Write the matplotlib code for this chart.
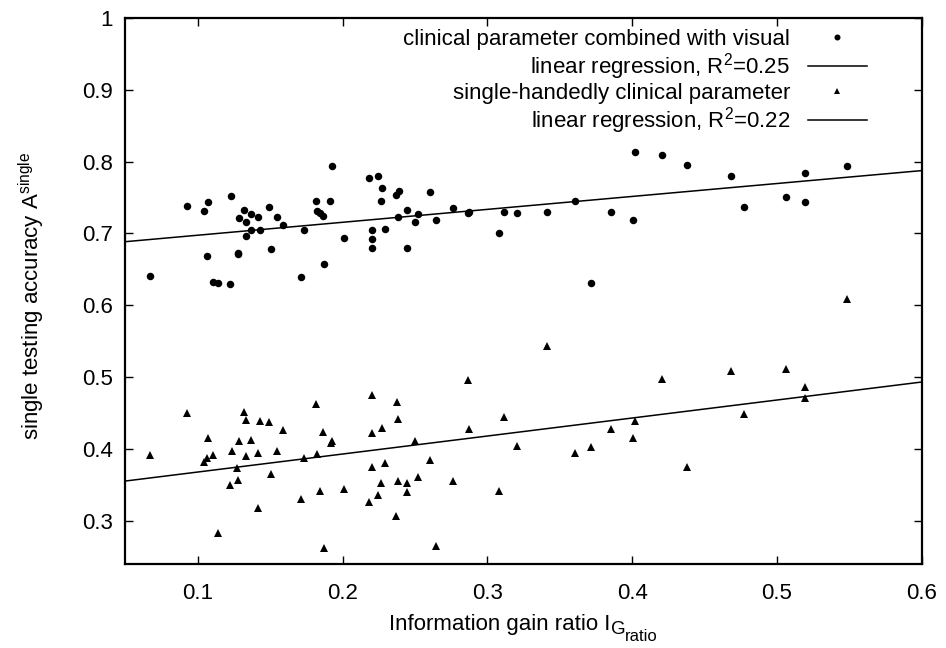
import numpy as np
import matplotlib
matplotlib.use('Agg')
import matplotlib.pyplot as plt
from matplotlib.ticker import FuncFormatter

plt.rcParams['font.family'] = ['Liberation Sans', 'DejaVu Sans']
plt.rcParams['mathtext.fontset'] = 'custom'
plt.rcParams['mathtext.rm'] = 'Liberation Sans'
plt.rcParams['mathtext.it'] = 'Liberation Sans'

# clinical parameter combined with visual (circles)
comb_x = [0.0673, 0.0926, 0.1043, 0.1073, 0.1066, 0.1108, 0.1140, 0.1225, 0.1232, 0.1283,
          0.1276, 0.1276, 0.1320, 0.1336, 0.1333, 0.1370, 0.1366, 0.1418, 0.1428, 0.1492,
          0.1504, 0.1550, 0.1587, 0.1711, 0.1736, 0.1819, 0.1822, 0.1844, 0.1867, 0.1872,
          0.1916, 0.1930, 0.2012, 0.2183, 0.2245, 0.2270, 0.2266, 0.2203, 0.2203, 0.2203,
          0.2291, 0.2367, 0.2388, 0.2383, 0.2445, 0.2445, 0.2498, 0.2523, 0.2606, 0.2645,
          0.2763, 0.2868, 0.2870, 0.3082, 0.3115, 0.3207, 0.3410, 0.3605, 0.3713, 0.3851,
          0.4003, 0.4021, 0.4208, 0.4376, 0.4684, 0.4770, 0.5060, 0.5193, 0.5193, 0.5485]
comb_y = [0.6407, 0.7377, 0.7316, 0.7432, 0.6686, 0.6324, 0.6310, 0.6296, 0.7520, 0.7218,
          0.6730, 0.6710, 0.7330, 0.7154, 0.6964, 0.7270, 0.7047, 0.7224, 0.7043, 0.7363,
          0.6787, 0.7224, 0.7117, 0.6394, 0.7043, 0.7455, 0.7311, 0.7280, 0.7246, 0.6579,
          0.7450, 0.7937, 0.6940, 0.7775, 0.7794, 0.7631, 0.7446, 0.7047, 0.6926, 0.6801,
          0.7061, 0.7530, 0.7590, 0.7224, 0.7330, 0.6797, 0.7154, 0.7274, 0.7580, 0.7186,
          0.7349, 0.7284, 0.7300, 0.7006, 0.7302, 0.7284, 0.7293, 0.7446, 0.6314, 0.7298,
          0.7186, 0.8128, 0.8090, 0.7955, 0.7798, 0.7363, 0.7502, 0.7844, 0.7433, 0.7937]

# single-handedly clinical parameter (triangles)
single_x = [0.0673, 0.0926, 0.1073, 0.1043, 0.1066, 0.1108, 0.1140, 0.1223, 0.1235, 0.1276,
            0.1273, 0.1285, 0.1320, 0.1336, 0.1336, 0.1366, 0.1418, 0.1414, 0.1428, 0.1492,
            0.1504, 0.1550, 0.1587, 0.1711, 0.1736, 0.1819, 0.1822, 0.1844, 0.1865, 0.1872,
            0.1918, 0.1930, 0.2012, 0.2203, 0.2203, 0.2203, 0.2183, 0.2245, 0.2270, 0.2266,
            0.2291, 0.2367, 0.2378, 0.2385, 0.2385, 0.2445, 0.2445, 0.2498, 0.2523, 0.2606,
            0.2647, 0.2763, 0.2868, 0.2873, 0.3082, 0.3115, 0.3207, 0.3410, 0.3605, 0.3713,
            0.3851, 0.4003, 0.4021, 0.4208, 0.4376, 0.4684, 0.4770, 0.5060, 0.5193, 0.5193,
            0.5485]
single_y = [0.3914, 0.4498, 0.4159, 0.3820, 0.3872, 0.3922, 0.2837, 0.3496, 0.3969, 0.3566,
            0.3737, 0.4112, 0.4520, 0.4400, 0.3904, 0.4122, 0.3950, 0.3177, 0.4386, 0.4381,
            0.3654, 0.3978, 0.4262, 0.3306, 0.3876, 0.4627, 0.3936, 0.3421, 0.4234, 0.2629,
            0.4080, 0.4108, 0.3449, 0.4757, 0.4228, 0.3755, 0.3260, 0.3357, 0.4298, 0.3525,
            0.3807, 0.3065, 0.4659, 0.4414, 0.3556, 0.3533, 0.3399, 0.4117, 0.3616, 0.3853,
            0.2652, 0.3561, 0.4957, 0.4275, 0.3421, 0.4442, 0.4039, 0.5438, 0.3941, 0.4029,
            0.4275, 0.4159, 0.4387, 0.4971, 0.3755, 0.5090, 0.4484, 0.5118, 0.4864, 0.4706,
            0.6092]

r2_labels = ['0.25', '0.22']

W, H = 946, 648
fig = plt.figure(figsize=(W / 100, H / 100), dpi=100)
ax = fig.add_axes([0.1325, 0.1292, 0.8419, 0.8435])

# regression lines fitted on the data
xs = np.array([0.05, 0.6])
k1, d1 = np.polyfit(comb_x, comb_y, 1)
k2, d2 = np.polyfit(single_x, single_y, 1)

ax.plot(comb_x, comb_y, 'o', color='black', ms=5.4, mew=0,
        label='clinical parameter combined with visual')
ax.plot(xs, k1 * xs + d1, '-', color='black', lw=1.1,
        label='linear regression, R$^2$=' + r2_labels[0])
ax.plot(single_x, single_y, '^', color='black', ms=5.6, mew=0,
        label='single-handedly clinical parameter')
ax.plot(xs, k2 * xs + d2, '-', color='black', lw=1.1,
        label='linear regression, R$^2$=' + r2_labels[1])

ax.set_xlim(0.05, 0.6)
ax.set_ylim(0.24, 1.0)
ax.set_xticks([0.1, 0.2, 0.3, 0.4, 0.5, 0.6])
ax.set_yticks([0.3, 0.4, 0.5, 0.6, 0.7, 0.8, 0.9, 1.0])
fmt = FuncFormatter(lambda v, p: '%g' % round(v, 2))
ax.xaxis.set_major_formatter(fmt)
ax.yaxis.set_major_formatter(fmt)
ax.tick_params(direction='in', length=6, width=1, top=True, right=True,
               labelsize=16, pad=9)
ax.tick_params(axis='x', pad=13.5)
for s in ax.spines.values():
    s.set_linewidth(1.6)

ax.set_ylabel(r'single testing accuracy A$^{\mathregular{single}}$', fontsize=16)
ax.yaxis.set_label_coords(-0.0986, 0.491)

leg = ax.legend(loc='upper right', bbox_to_anchor=(0.945, 0.9996), frameon=False,
                markerfirst=False, fontsize=16, handlelength=2.65, handletextpad=0.8,
                labelspacing=0.05, borderpad=0, markerscale=0.8)

# x label: gnuplot-like nested subscripts, built from pieces
fig.canvas.draw()
rend = fig.canvas.get_renderer()
pieces = [('Information gain ratio I', 16, 0), ('G', 13.5, -4), ('ratio', 12, -11)]
texts = []
for s, fs, dy in pieces:
    t = fig.text(0, 0, s, fontsize=fs, va='baseline', ha='left')
    texts.append((t, dy))
widths = [t.get_window_extent(rend).width for t, _ in texts]
ax_bb = ax.get_window_extent(rend)
x0 = (ax_bb.x0 + ax_bb.x1) / 2 - sum(widths) / 2
base = 18
for (t, dy), w in zip(texts, widths):
    t.set_position((x0 / W, (base + dy) / H))
    x0 += w

plt.savefig('out.png', dpi=100)
